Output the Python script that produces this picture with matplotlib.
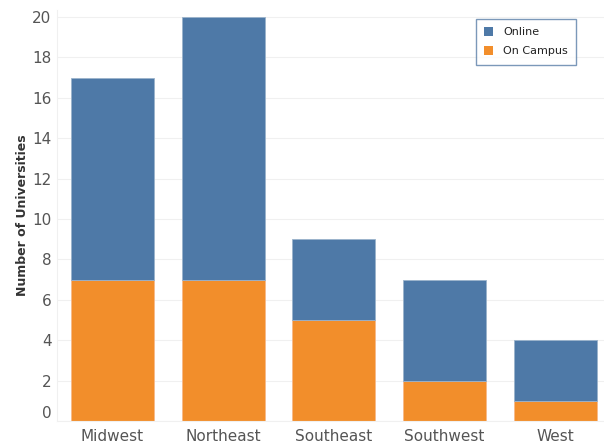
"""Stacked bar chart of universities by region."""

import numpy as np
import matplotlib.pyplot as plt
import matplotlib.transforms as mtransforms
from matplotlib.patches import Patch

# Data
regions = ["Midwest", "Northeast", "Southeast", "Southwest", "West"]
on_campus = [7, 7, 5, 2, 1]
online = [10, 13, 4, 5, 3]

blue = "#4e79a7"
orange = "#f28e2b"

fig = plt.figure(figsize=(6.04, 4.43), dpi=100)
ax = fig.add_axes([57 / 604, 1 - 421 / 443, 1 - 57 / 604, (421 - 10) / 443])

x = np.arange(len(regions))
ax.bar(x, on_campus, width=0.75, color=orange, edgecolor="#f7b98a", linewidth=0.6)
ax.bar(x, online, width=0.75, bottom=on_campus, color=blue,
       edgecolor="#9bb3cc", linewidth=0.6)

ax.set_xlim(-0.5, 4.44)
ax.set_ylim(0, 20.35)
ax.set_yticks(range(0, 21, 2))
ax.set_xticks(x)
ax.set_xticklabels(regions)
ax.tick_params(axis="both", length=0, labelsize=11, labelcolor="#555555")
ax.tick_params(axis="y", pad=4)
ax.tick_params(axis="x", pad=6)

# Tableau nudges the zero label up a bit
fig.canvas.draw()
shift = mtransforms.ScaledTranslation(0, 9 / 100, fig.dpi_scale_trans)
for tick in ax.yaxis.get_major_ticks():
    if tick.get_loc() == 0:
        tick.label1.set_transform(tick.label1.get_transform() + shift)

ax.grid(axis="y", color="#f0f0f0", linewidth=0.8)
ax.set_axisbelow(True)
for side in ["top", "right"]:
    ax.spines[side].set_visible(False)
ax.spines["left"].set_color("#f0f0f0")
ax.spines["bottom"].set_color("#f0f0f0")

ax.set_ylabel("Number of Universities", fontsize=9, fontweight="bold",
              color="#333333", labelpad=2)

handles = [Patch(facecolor=blue, label="Online"),
           Patch(facecolor=orange, label="On Campus")]
leg = ax.legend(handles=handles, loc="upper right",
                bbox_to_anchor=((576 - 57) / (604 - 57), 1 - 9 / 411),
                borderaxespad=0, fontsize=8, frameon=True, fancybox=False,
                handlelength=0.8, handleheight=0.8, handletextpad=0.9,
                borderpad=0.75, labelspacing=0.8)
leg.get_frame().set_edgecolor("#5a7fa8")
leg.get_frame().set_linewidth(1.0)
for txt in leg.get_texts():
    txt.set_color("#222222")

fig.savefig("out.png", dpi=100)
